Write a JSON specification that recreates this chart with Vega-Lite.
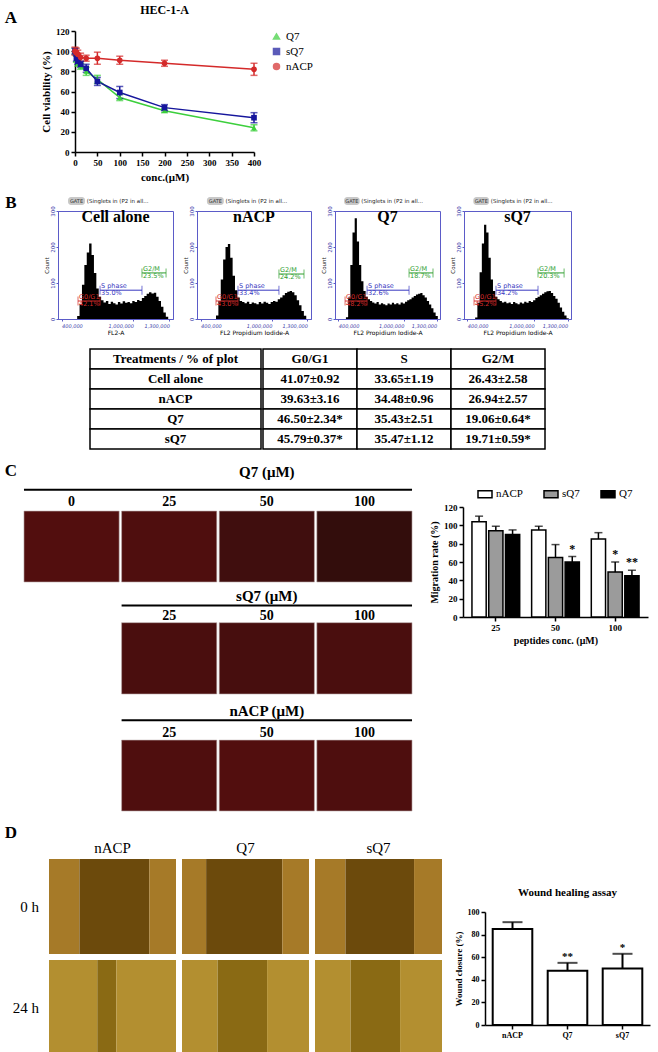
{
  "$schema": "https://vega.github.io/schema/vega-lite/v6.json",
  "background": "white",
  "padding": {"left": 4, "top": 4, "right": 2, "bottom": 0},
  "spacing": 12,
  "resolve": {"scale": {"color": "independent", "shape": "independent"}, "legend": {"color": "independent", "shape": "independent"}},
  "config": {
    "view": {"stroke": null},
    "font": "Liberation Serif",
    "axis": {"grid": false, "labelColor": "black", "titleColor": "black", "domainColor": "black", "tickColor": "black", "labelFont": "Liberation Serif", "titleFont": "Liberation Serif"},
    "legend": {"labelFont": "Liberation Serif", "labelColor": "black", "layout": {"top": {"anchor": "middle"}}},
    "title": {"font": "Liberation Serif", "color": "black"}
  },
  "datasets": {
    "viability": [
      {"peptide": "Q7", "conc": 0, "mean": 100, "sd": 3},
      {"peptide": "Q7", "conc": 3.125, "mean": 92, "sd": 3},
      {"peptide": "Q7", "conc": 6.25, "mean": 88, "sd": 3},
      {"peptide": "Q7", "conc": 12.5, "mean": 85, "sd": 3},
      {"peptide": "Q7", "conc": 25, "mean": 80, "sd": 4},
      {"peptide": "Q7", "conc": 50, "mean": 72, "sd": 4},
      {"peptide": "Q7", "conc": 100, "mean": 54, "sd": 3},
      {"peptide": "Q7", "conc": 200, "mean": 41, "sd": 2},
      {"peptide": "Q7", "conc": 400, "mean": 24, "sd": 3},
      {"peptide": "sQ7", "conc": 0, "mean": 100, "sd": 3},
      {"peptide": "sQ7", "conc": 3.125, "mean": 93, "sd": 3},
      {"peptide": "sQ7", "conc": 6.25, "mean": 90, "sd": 3},
      {"peptide": "sQ7", "conc": 12.5, "mean": 87, "sd": 3},
      {"peptide": "sQ7", "conc": 25, "mean": 83, "sd": 4},
      {"peptide": "sQ7", "conc": 50, "mean": 70, "sd": 4},
      {"peptide": "sQ7", "conc": 100, "mean": 59, "sd": 6},
      {"peptide": "sQ7", "conc": 200, "mean": 44, "sd": 3},
      {"peptide": "sQ7", "conc": 400, "mean": 34, "sd": 5},
      {"peptide": "nACP", "conc": 0, "mean": 100, "sd": 4},
      {"peptide": "nACP", "conc": 3.125, "mean": 99, "sd": 4},
      {"peptide": "nACP", "conc": 6.25, "mean": 97, "sd": 4},
      {"peptide": "nACP", "conc": 12.5, "mean": 94, "sd": 4},
      {"peptide": "nACP", "conc": 25, "mean": 93, "sd": 3},
      {"peptide": "nACP", "conc": 50, "mean": 93, "sd": 6},
      {"peptide": "nACP", "conc": 100, "mean": 91, "sd": 4},
      {"peptide": "nACP", "conc": 200, "mean": 88, "sd": 3},
      {"peptide": "nACP", "conc": 400, "mean": 82, "sd": 6}
    ],
    "flow": [
      {"sample": "Cell alone", "kind": "name", "gate": "GATE", "note": "(Singlets in (P2 in all..."},
      {"sample": "nACP", "kind": "name", "gate": "GATE", "note": "(Singlets in (P2 in all..."},
      {"sample": "Q7", "kind": "name", "gate": "GATE", "note": "(Singlets in (P2 in all..."},
      {"sample": "sQ7", "kind": "name", "gate": "GATE", "note": "(Singlets in (P2 in all..."},
      {"sample": "Cell alone", "kind": "gate", "phase": "G0/G1", "fl2": 537000, "count": 50, "label": "G0/G1\n42.1%"},
      {"sample": "Cell alone", "kind": "gate", "phase": "G0/G1", "fl2": 721000, "count": 50},
      {"sample": "Cell alone", "kind": "gate", "phase": "S phase", "fl2": 721000, "count": 80, "label": "S phase\n35.0%"},
      {"sample": "Cell alone", "kind": "gate", "phase": "S phase", "fl2": 1071000, "count": 80},
      {"sample": "Cell alone", "kind": "gate", "phase": "G2/M", "fl2": 1071000, "count": 128, "label": "G2/M\n23.5%"},
      {"sample": "Cell alone", "kind": "gate", "phase": "G2/M", "fl2": 1272000, "count": 128},
      {"sample": "nACP", "kind": "gate", "phase": "G0/G1", "fl2": 530000, "count": 50, "label": "G0/G1\n43.0%"},
      {"sample": "nACP", "kind": "gate", "phase": "G0/G1", "fl2": 715000, "count": 50},
      {"sample": "nACP", "kind": "gate", "phase": "S phase", "fl2": 715000, "count": 80, "label": "S phase\n33.4%"},
      {"sample": "nACP", "kind": "gate", "phase": "S phase", "fl2": 1060000, "count": 80},
      {"sample": "nACP", "kind": "gate", "phase": "G2/M", "fl2": 1060000, "count": 125, "label": "G2/M\n24.2%"},
      {"sample": "nACP", "kind": "gate", "phase": "G2/M", "fl2": 1271000, "count": 125},
      {"sample": "Q7", "kind": "gate", "phase": "G0/G1", "fl2": 462000, "count": 50, "label": "G0/G1\n48.2%"},
      {"sample": "Q7", "kind": "gate", "phase": "G0/G1", "fl2": 663000, "count": 50},
      {"sample": "Q7", "kind": "gate", "phase": "S phase", "fl2": 663000, "count": 80, "label": "S phase\n32.6%"},
      {"sample": "Q7", "kind": "gate", "phase": "S phase", "fl2": 1047000, "count": 80},
      {"sample": "Q7", "kind": "gate", "phase": "G2/M", "fl2": 1047000, "count": 128, "label": "G2/M\n18.7%"},
      {"sample": "Q7", "kind": "gate", "phase": "G2/M", "fl2": 1266000, "count": 128},
      {"sample": "sQ7", "kind": "gate", "phase": "G0/G1", "fl2": 460000, "count": 50, "label": "G0/G1\n45.2%"},
      {"sample": "sQ7", "kind": "gate", "phase": "G0/G1", "fl2": 657000, "count": 50},
      {"sample": "sQ7", "kind": "gate", "phase": "S phase", "fl2": 657000, "count": 80, "label": "S phase\n34.2%"},
      {"sample": "sQ7", "kind": "gate", "phase": "S phase", "fl2": 1034000, "count": 80},
      {"sample": "sQ7", "kind": "gate", "phase": "G2/M", "fl2": 1034000, "count": 128, "label": "G2/M\n20.3%"},
      {"sample": "sQ7", "kind": "gate", "phase": "G2/M", "fl2": 1268000, "count": 128},
      {"sample": "Cell alone", "kind": "hist", "fl2": 500000, "count": 0},
      {"sample": "Cell alone", "kind": "hist", "fl2": 520000, "count": 0},
      {"sample": "Cell alone", "kind": "hist", "fl2": 540000, "count": 8},
      {"sample": "Cell alone", "kind": "hist", "fl2": 560000, "count": 40},
      {"sample": "Cell alone", "kind": "hist", "fl2": 580000, "count": 95},
      {"sample": "Cell alone", "kind": "hist", "fl2": 600000, "count": 150},
      {"sample": "Cell alone", "kind": "hist", "fl2": 620000, "count": 185},
      {"sample": "Cell alone", "kind": "hist", "fl2": 640000, "count": 210},
      {"sample": "Cell alone", "kind": "hist", "fl2": 660000, "count": 178},
      {"sample": "Cell alone", "kind": "hist", "fl2": 680000, "count": 128},
      {"sample": "Cell alone", "kind": "hist", "fl2": 700000, "count": 85},
      {"sample": "Cell alone", "kind": "hist", "fl2": 720000, "count": 62},
      {"sample": "Cell alone", "kind": "hist", "fl2": 740000, "count": 52},
      {"sample": "Cell alone", "kind": "hist", "fl2": 760000, "count": 46},
      {"sample": "Cell alone", "kind": "hist", "fl2": 780000, "count": 50},
      {"sample": "Cell alone", "kind": "hist", "fl2": 800000, "count": 42},
      {"sample": "Cell alone", "kind": "hist", "fl2": 820000, "count": 48},
      {"sample": "Cell alone", "kind": "hist", "fl2": 840000, "count": 44},
      {"sample": "Cell alone", "kind": "hist", "fl2": 860000, "count": 40},
      {"sample": "Cell alone", "kind": "hist", "fl2": 880000, "count": 47},
      {"sample": "Cell alone", "kind": "hist", "fl2": 900000, "count": 43},
      {"sample": "Cell alone", "kind": "hist", "fl2": 920000, "count": 49},
      {"sample": "Cell alone", "kind": "hist", "fl2": 940000, "count": 45},
      {"sample": "Cell alone", "kind": "hist", "fl2": 960000, "count": 47},
      {"sample": "Cell alone", "kind": "hist", "fl2": 980000, "count": 44},
      {"sample": "Cell alone", "kind": "hist", "fl2": 1000000, "count": 50},
      {"sample": "Cell alone", "kind": "hist", "fl2": 1020000, "count": 47},
      {"sample": "Cell alone", "kind": "hist", "fl2": 1040000, "count": 53},
      {"sample": "Cell alone", "kind": "hist", "fl2": 1060000, "count": 50},
      {"sample": "Cell alone", "kind": "hist", "fl2": 1080000, "count": 58},
      {"sample": "Cell alone", "kind": "hist", "fl2": 1100000, "count": 64},
      {"sample": "Cell alone", "kind": "hist", "fl2": 1120000, "count": 70},
      {"sample": "Cell alone", "kind": "hist", "fl2": 1140000, "count": 74},
      {"sample": "Cell alone", "kind": "hist", "fl2": 1160000, "count": 71},
      {"sample": "Cell alone", "kind": "hist", "fl2": 1180000, "count": 73},
      {"sample": "Cell alone", "kind": "hist", "fl2": 1200000, "count": 62},
      {"sample": "Cell alone", "kind": "hist", "fl2": 1220000, "count": 50},
      {"sample": "Cell alone", "kind": "hist", "fl2": 1240000, "count": 34},
      {"sample": "Cell alone", "kind": "hist", "fl2": 1260000, "count": 18},
      {"sample": "Cell alone", "kind": "hist", "fl2": 1280000, "count": 6},
      {"sample": "Cell alone", "kind": "hist", "fl2": 1300000, "count": 0},
      {"sample": "nACP", "kind": "hist", "fl2": 500000, "count": 0},
      {"sample": "nACP", "kind": "hist", "fl2": 520000, "count": 0},
      {"sample": "nACP", "kind": "hist", "fl2": 540000, "count": 10},
      {"sample": "nACP", "kind": "hist", "fl2": 560000, "count": 50},
      {"sample": "nACP", "kind": "hist", "fl2": 580000, "count": 110},
      {"sample": "nACP", "kind": "hist", "fl2": 600000, "count": 165},
      {"sample": "nACP", "kind": "hist", "fl2": 620000, "count": 200},
      {"sample": "nACP", "kind": "hist", "fl2": 640000, "count": 208},
      {"sample": "nACP", "kind": "hist", "fl2": 660000, "count": 170},
      {"sample": "nACP", "kind": "hist", "fl2": 680000, "count": 120},
      {"sample": "nACP", "kind": "hist", "fl2": 700000, "count": 80},
      {"sample": "nACP", "kind": "hist", "fl2": 720000, "count": 60},
      {"sample": "nACP", "kind": "hist", "fl2": 740000, "count": 50},
      {"sample": "nACP", "kind": "hist", "fl2": 760000, "count": 47},
      {"sample": "nACP", "kind": "hist", "fl2": 780000, "count": 44},
      {"sample": "nACP", "kind": "hist", "fl2": 800000, "count": 48},
      {"sample": "nACP", "kind": "hist", "fl2": 820000, "count": 42},
      {"sample": "nACP", "kind": "hist", "fl2": 840000, "count": 46},
      {"sample": "nACP", "kind": "hist", "fl2": 860000, "count": 44},
      {"sample": "nACP", "kind": "hist", "fl2": 880000, "count": 41},
      {"sample": "nACP", "kind": "hist", "fl2": 900000, "count": 47},
      {"sample": "nACP", "kind": "hist", "fl2": 920000, "count": 43},
      {"sample": "nACP", "kind": "hist", "fl2": 940000, "count": 48},
      {"sample": "nACP", "kind": "hist", "fl2": 960000, "count": 45},
      {"sample": "nACP", "kind": "hist", "fl2": 980000, "count": 42},
      {"sample": "nACP", "kind": "hist", "fl2": 1000000, "count": 47},
      {"sample": "nACP", "kind": "hist", "fl2": 1020000, "count": 50},
      {"sample": "nACP", "kind": "hist", "fl2": 1040000, "count": 48},
      {"sample": "nACP", "kind": "hist", "fl2": 1060000, "count": 55},
      {"sample": "nACP", "kind": "hist", "fl2": 1080000, "count": 60},
      {"sample": "nACP", "kind": "hist", "fl2": 1100000, "count": 66},
      {"sample": "nACP", "kind": "hist", "fl2": 1120000, "count": 72},
      {"sample": "nACP", "kind": "hist", "fl2": 1140000, "count": 76},
      {"sample": "nACP", "kind": "hist", "fl2": 1160000, "count": 78},
      {"sample": "nACP", "kind": "hist", "fl2": 1180000, "count": 74},
      {"sample": "nACP", "kind": "hist", "fl2": 1200000, "count": 66},
      {"sample": "nACP", "kind": "hist", "fl2": 1220000, "count": 52},
      {"sample": "nACP", "kind": "hist", "fl2": 1240000, "count": 38},
      {"sample": "nACP", "kind": "hist", "fl2": 1260000, "count": 22},
      {"sample": "nACP", "kind": "hist", "fl2": 1280000, "count": 9},
      {"sample": "nACP", "kind": "hist", "fl2": 1300000, "count": 0},
      {"sample": "Q7", "kind": "hist", "fl2": 460000, "count": 0},
      {"sample": "Q7", "kind": "hist", "fl2": 480000, "count": 5},
      {"sample": "Q7", "kind": "hist", "fl2": 500000, "count": 60},
      {"sample": "Q7", "kind": "hist", "fl2": 520000, "count": 150},
      {"sample": "Q7", "kind": "hist", "fl2": 540000, "count": 240},
      {"sample": "Q7", "kind": "hist", "fl2": 560000, "count": 280},
      {"sample": "Q7", "kind": "hist", "fl2": 580000, "count": 215},
      {"sample": "Q7", "kind": "hist", "fl2": 600000, "count": 150},
      {"sample": "Q7", "kind": "hist", "fl2": 620000, "count": 105},
      {"sample": "Q7", "kind": "hist", "fl2": 640000, "count": 78},
      {"sample": "Q7", "kind": "hist", "fl2": 660000, "count": 62},
      {"sample": "Q7", "kind": "hist", "fl2": 680000, "count": 55},
      {"sample": "Q7", "kind": "hist", "fl2": 700000, "count": 50},
      {"sample": "Q7", "kind": "hist", "fl2": 720000, "count": 46},
      {"sample": "Q7", "kind": "hist", "fl2": 740000, "count": 43},
      {"sample": "Q7", "kind": "hist", "fl2": 760000, "count": 47},
      {"sample": "Q7", "kind": "hist", "fl2": 780000, "count": 40},
      {"sample": "Q7", "kind": "hist", "fl2": 800000, "count": 44},
      {"sample": "Q7", "kind": "hist", "fl2": 820000, "count": 41},
      {"sample": "Q7", "kind": "hist", "fl2": 840000, "count": 38},
      {"sample": "Q7", "kind": "hist", "fl2": 860000, "count": 43},
      {"sample": "Q7", "kind": "hist", "fl2": 880000, "count": 40},
      {"sample": "Q7", "kind": "hist", "fl2": 900000, "count": 45},
      {"sample": "Q7", "kind": "hist", "fl2": 920000, "count": 41},
      {"sample": "Q7", "kind": "hist", "fl2": 940000, "count": 44},
      {"sample": "Q7", "kind": "hist", "fl2": 960000, "count": 40},
      {"sample": "Q7", "kind": "hist", "fl2": 980000, "count": 46},
      {"sample": "Q7", "kind": "hist", "fl2": 1000000, "count": 43},
      {"sample": "Q7", "kind": "hist", "fl2": 1020000, "count": 48},
      {"sample": "Q7", "kind": "hist", "fl2": 1040000, "count": 52},
      {"sample": "Q7", "kind": "hist", "fl2": 1060000, "count": 55},
      {"sample": "Q7", "kind": "hist", "fl2": 1080000, "count": 60},
      {"sample": "Q7", "kind": "hist", "fl2": 1100000, "count": 64},
      {"sample": "Q7", "kind": "hist", "fl2": 1120000, "count": 68},
      {"sample": "Q7", "kind": "hist", "fl2": 1140000, "count": 70},
      {"sample": "Q7", "kind": "hist", "fl2": 1160000, "count": 72},
      {"sample": "Q7", "kind": "hist", "fl2": 1180000, "count": 66},
      {"sample": "Q7", "kind": "hist", "fl2": 1200000, "count": 60},
      {"sample": "Q7", "kind": "hist", "fl2": 1220000, "count": 50},
      {"sample": "Q7", "kind": "hist", "fl2": 1240000, "count": 40},
      {"sample": "Q7", "kind": "hist", "fl2": 1260000, "count": 30},
      {"sample": "Q7", "kind": "hist", "fl2": 1280000, "count": 18},
      {"sample": "Q7", "kind": "hist", "fl2": 1300000, "count": 8},
      {"sample": "Q7", "kind": "hist", "fl2": 1320000, "count": 0},
      {"sample": "sQ7", "kind": "hist", "fl2": 460000, "count": 0},
      {"sample": "sQ7", "kind": "hist", "fl2": 480000, "count": 4},
      {"sample": "sQ7", "kind": "hist", "fl2": 500000, "count": 45},
      {"sample": "sQ7", "kind": "hist", "fl2": 520000, "count": 130},
      {"sample": "sQ7", "kind": "hist", "fl2": 540000, "count": 210},
      {"sample": "sQ7", "kind": "hist", "fl2": 560000, "count": 262},
      {"sample": "sQ7", "kind": "hist", "fl2": 580000, "count": 240},
      {"sample": "sQ7", "kind": "hist", "fl2": 600000, "count": 170},
      {"sample": "sQ7", "kind": "hist", "fl2": 620000, "count": 110},
      {"sample": "sQ7", "kind": "hist", "fl2": 640000, "count": 78},
      {"sample": "sQ7", "kind": "hist", "fl2": 660000, "count": 62},
      {"sample": "sQ7", "kind": "hist", "fl2": 680000, "count": 55},
      {"sample": "sQ7", "kind": "hist", "fl2": 700000, "count": 50},
      {"sample": "sQ7", "kind": "hist", "fl2": 720000, "count": 46},
      {"sample": "sQ7", "kind": "hist", "fl2": 740000, "count": 48},
      {"sample": "sQ7", "kind": "hist", "fl2": 760000, "count": 44},
      {"sample": "sQ7", "kind": "hist", "fl2": 780000, "count": 46},
      {"sample": "sQ7", "kind": "hist", "fl2": 800000, "count": 42},
      {"sample": "sQ7", "kind": "hist", "fl2": 820000, "count": 47},
      {"sample": "sQ7", "kind": "hist", "fl2": 840000, "count": 44},
      {"sample": "sQ7", "kind": "hist", "fl2": 860000, "count": 41},
      {"sample": "sQ7", "kind": "hist", "fl2": 880000, "count": 46},
      {"sample": "sQ7", "kind": "hist", "fl2": 900000, "count": 43},
      {"sample": "sQ7", "kind": "hist", "fl2": 920000, "count": 48},
      {"sample": "sQ7", "kind": "hist", "fl2": 940000, "count": 45},
      {"sample": "sQ7", "kind": "hist", "fl2": 960000, "count": 50},
      {"sample": "sQ7", "kind": "hist", "fl2": 980000, "count": 47},
      {"sample": "sQ7", "kind": "hist", "fl2": 1000000, "count": 52},
      {"sample": "sQ7", "kind": "hist", "fl2": 1020000, "count": 58},
      {"sample": "sQ7", "kind": "hist", "fl2": 1040000, "count": 62},
      {"sample": "sQ7", "kind": "hist", "fl2": 1060000, "count": 66},
      {"sample": "sQ7", "kind": "hist", "fl2": 1080000, "count": 70},
      {"sample": "sQ7", "kind": "hist", "fl2": 1100000, "count": 74},
      {"sample": "sQ7", "kind": "hist", "fl2": 1120000, "count": 77},
      {"sample": "sQ7", "kind": "hist", "fl2": 1140000, "count": 78},
      {"sample": "sQ7", "kind": "hist", "fl2": 1160000, "count": 72},
      {"sample": "sQ7", "kind": "hist", "fl2": 1180000, "count": 64},
      {"sample": "sQ7", "kind": "hist", "fl2": 1200000, "count": 56},
      {"sample": "sQ7", "kind": "hist", "fl2": 1220000, "count": 45},
      {"sample": "sQ7", "kind": "hist", "fl2": 1240000, "count": 32},
      {"sample": "sQ7", "kind": "hist", "fl2": 1260000, "count": 20},
      {"sample": "sQ7", "kind": "hist", "fl2": 1280000, "count": 10},
      {"sample": "sQ7", "kind": "hist", "fl2": 1300000, "count": 2},
      {"sample": "sQ7", "kind": "hist", "fl2": 1320000, "count": 0}
    ],
    "table": [
      {"treatment": "Treatments / % of plot", "phase": "name", "text": "Treatments / % of plot"},
      {"treatment": "Cell alone", "phase": "name", "text": "Cell alone"},
      {"treatment": "nACP", "phase": "name", "text": "nACP"},
      {"treatment": "Q7", "phase": "name", "text": "Q7"},
      {"treatment": "sQ7", "phase": "name", "text": "sQ7"},
      {"treatment": "Treatments / % of plot", "phase": "G0/G1", "text": "G0/G1"},
      {"treatment": "Treatments / % of plot", "phase": "S", "text": "S"},
      {"treatment": "Treatments / % of plot", "phase": "G2/M", "text": "G2/M"},
      {"treatment": "Cell alone", "phase": "G0/G1", "text": "41.07±0.92"},
      {"treatment": "Cell alone", "phase": "S", "text": "33.65±1.19"},
      {"treatment": "Cell alone", "phase": "G2/M", "text": "26.43±2.58"},
      {"treatment": "nACP", "phase": "G0/G1", "text": "39.63±3.16"},
      {"treatment": "nACP", "phase": "S", "text": "34.48±0.96"},
      {"treatment": "nACP", "phase": "G2/M", "text": "26.94±2.57"},
      {"treatment": "Q7", "phase": "G0/G1", "text": "46.50±2.34*"},
      {"treatment": "Q7", "phase": "S", "text": "35.43±2.51"},
      {"treatment": "Q7", "phase": "G2/M", "text": "19.06±0.64*"},
      {"treatment": "sQ7", "phase": "G0/G1", "text": "45.79±0.37*"},
      {"treatment": "sQ7", "phase": "S", "text": "35.47±1.12"},
      {"treatment": "sQ7", "phase": "G2/M", "text": "19.71±0.59*"}
    ],
    "migimg": [
      {"group": "Q7", "conc": "0", "density": 0.9},
      {"group": "Q7", "conc": "25", "density": 0.86},
      {"group": "Q7", "conc": "50", "density": 0.66},
      {"group": "Q7", "conc": "100", "density": 0.5},
      {"group": "sQ7", "conc": "25", "density": 0.8},
      {"group": "sQ7", "conc": "50", "density": 0.76},
      {"group": "sQ7", "conc": "100", "density": 0.8},
      {"group": "nACP", "conc": "25", "density": 0.86},
      {"group": "nACP", "conc": "50", "density": 0.9},
      {"group": "nACP", "conc": "100", "density": 0.84}
    ],
    "miggroup": [
      {"group": "Q7", "title": "Q7 (μM)", "first": "0", "last": "100"},
      {"group": "sQ7", "title": "sQ7 (μM)", "first": "25", "last": "100"},
      {"group": "nACP", "title": "nACP (μM)", "first": "25", "last": "100"}
    ],
    "migration": [
      {"conc": "25", "peptide": "nACP", "value": 104, "sd": 6},
      {"conc": "25", "peptide": "sQ7", "value": 94, "sd": 5},
      {"conc": "25", "peptide": "Q7", "value": 90, "sd": 5},
      {"conc": "50", "peptide": "nACP", "value": 95, "sd": 4},
      {"conc": "50", "peptide": "sQ7", "value": 65, "sd": 14},
      {"conc": "50", "peptide": "Q7", "value": 60, "sd": 6},
      {"conc": "100", "peptide": "nACP", "value": 85, "sd": 7},
      {"conc": "100", "peptide": "sQ7", "value": 49, "sd": 11},
      {"conc": "100", "peptide": "Q7", "value": 45, "sd": 6}
    ],
    "migstars": [
      {"conc": "50", "peptide": "Q7", "value": 66, "sig": "*"},
      {"conc": "100", "peptide": "sQ7", "value": 60, "sig": "*"},
      {"conc": "100", "peptide": "Q7", "value": 51, "sig": "**"}
    ],
    "wound": [
      {"treatment": "nACP", "time": "0 h", "part": "cells", "from": 0, "to": 0.24},
      {"treatment": "nACP", "time": "0 h", "part": "gap", "from": 0.24, "to": 0.79},
      {"treatment": "nACP", "time": "0 h", "part": "cells", "from": 0.79, "to": 1},
      {"treatment": "Q7", "time": "0 h", "part": "cells", "from": 0, "to": 0.19},
      {"treatment": "Q7", "time": "0 h", "part": "gap", "from": 0.19, "to": 0.79},
      {"treatment": "Q7", "time": "0 h", "part": "cells", "from": 0.79, "to": 1},
      {"treatment": "sQ7", "time": "0 h", "part": "cells", "from": 0, "to": 0.24},
      {"treatment": "sQ7", "time": "0 h", "part": "gap", "from": 0.24, "to": 0.78},
      {"treatment": "sQ7", "time": "0 h", "part": "cells", "from": 0.78, "to": 1},
      {"treatment": "nACP", "time": "24 h", "part": "cells", "from": 0, "to": 0.38},
      {"treatment": "nACP", "time": "24 h", "part": "gap", "from": 0.38, "to": 0.53},
      {"treatment": "nACP", "time": "24 h", "part": "cells", "from": 0.53, "to": 1},
      {"treatment": "Q7", "time": "24 h", "part": "cells", "from": 0, "to": 0.28},
      {"treatment": "Q7", "time": "24 h", "part": "gap", "from": 0.28, "to": 0.67},
      {"treatment": "Q7", "time": "24 h", "part": "cells", "from": 0.67, "to": 1},
      {"treatment": "sQ7", "time": "24 h", "part": "cells", "from": 0, "to": 0.28},
      {"treatment": "sQ7", "time": "24 h", "part": "gap", "from": 0.28, "to": 0.67},
      {"treatment": "sQ7", "time": "24 h", "part": "cells", "from": 0.67, "to": 1}
    ],
    "closure": [
      {"peptide": "nACP", "value": 85, "sd": 6},
      {"peptide": "Q7", "value": 48, "sd": 7},
      {"peptide": "sQ7", "value": 50, "sd": 13}
    ],
    "closurestars": [
      {"peptide": "Q7", "value": 55, "sig": "**"},
      {"peptide": "sQ7", "value": 63, "sig": "*"}
    ]
  },
  "vconcat": [
    {
      "hconcat": [
        {"width": 12, "height": 12, "data": {"values": [{"letter": "A"}]},
         "mark": {"type": "text", "font": "Liberation Serif", "fontSize": 17, "fontWeight": "bold", "color": "black", "dy": -19},
         "encoding": {"text": {"field": "letter"}}},
        {
          "width": 179, "height": 121,
          "title": {"text": "HEC-1-A", "fontSize": 12, "fontWeight": "bold", "offset": 10},
          "data": {"name": "viability"},
          "encoding": {
            "x": {"field": "conc", "type": "quantitative", "scale": {"domain": [0, 400], "nice": false},
                  "axis": {"values": [0, 50, 100, 150, 200, 250, 300, 350, 400], "title": "conc.(μM)", "labelFontWeight": "bold", "labelFontSize": 9, "titleFontSize": 11, "titleFontWeight": "bold", "tickSize": 4, "domainWidth": 1.5, "tickWidth": 1.5, "labelFlush": false, "titlePadding": 4}},
            "y": {"field": "mean", "type": "quantitative", "scale": {"domain": [0, 120], "nice": false},
                  "axis": {"values": [0, 20, 40, 60, 80, 100, 120], "title": "Cell viability (%)", "labelFontWeight": "bold", "labelFontSize": 9, "titleFontSize": 11, "titleFontWeight": "bold", "tickSize": 4, "domainWidth": 1.5, "tickWidth": 1.5, "titlePadding": 4}},
            "color": {"field": "peptide", "type": "nominal", "scale": {"domain": ["Q7", "sQ7", "nACP"], "range": ["#3ccf3c", "#16169c", "#d42a2a"]},
                      "legend": {"title": null, "orient": "right", "offset": 14, "labelFontSize": 11, "symbolSize": 36, "rowPadding": 2, "padding": 0}}
          },
          "layer": [
            {"mark": {"type": "line", "strokeWidth": 1.5}},
            {"mark": {"type": "errorbar", "ticks": {"size": 7, "thickness": 1.5}, "rule": {"strokeWidth": 1.5}}, "encoding": {"yError": {"field": "sd"}}},
            {"mark": {"type": "point", "filled": true, "size": 32, "opacity": 1},
             "encoding": {"shape": {"field": "peptide", "type": "nominal", "scale": {"domain": ["Q7", "sQ7", "nACP"], "range": ["triangle-up", "square", "circle"]}}}}
          ]
        }
      ],
      "spacing": 22,
      "resolve": {"scale": {"color": "independent", "shape": "independent"}, "legend": {"color": "independent", "shape": "independent"}}
    },
    {
      "hconcat": [
        {"width": 30, "height": 12, "data": {"values": [{"letter": "B"}]},
         "mark": {"type": "text", "font": "Liberation Serif", "fontSize": 17, "fontWeight": "bold", "color": "black", "dx": -9},
         "encoding": {"text": {"field": "letter"}}},
        {
          "vconcat": [
            {"width": 115, "height": 8, "data": {"name": "flow"}, "transform": [{"filter": "datum.sample == 'Cell alone' && datum.kind == 'name'"}],
             "layer": [
               {"mark": {"type": "rect", "fill": "#c8c8c8", "cornerRadius": 3},
                "encoding": {"x": {"datum": 0.087, "type": "quantitative", "scale": {"domain": [0, 1]}, "axis": null}, "x2": {"datum": 0.235}, "y": {"datum": 0, "type": "quantitative", "scale": {"domain": [0, 1]}, "axis": null}, "y2": {"datum": 1}}},
               {"mark": {"type": "text", "font": "DejaVu Sans", "fontSize": 5, "color": "#333333"},
                "encoding": {"x": {"datum": 0.161, "type": "quantitative", "axis": null}, "text": {"field": "gate"}}},
               {"mark": {"type": "text", "font": "DejaVu Sans", "fontSize": 5.5, "align": "left", "color": "#222222"},
                "encoding": {"x": {"datum": 0.25, "type": "quantitative", "axis": null}, "text": {"field": "note"}}}
             ]},
            {"width": 115, "height": 108,
             "view": {"stroke": "#5b5bc8", "strokeWidth": 1},
             "title": {"text": "Cell alone", "fontSize": 16, "fontWeight": "bold", "offset": -19},
             "data": {"name": "flow"}, "transform": [{"filter": "datum.sample == 'Cell alone'"}],
             "encoding": {
               "x": {"field": "fl2", "type": "quantitative", "scale": {"domain": [370000, 1330000], "nice": false, "zero": false},
                     "axis": {"values": [400000, 1000000, 1300000], "labelExpr": "format(datum.value, ',')", "labelOverlap": false, "labelAlign": {"condition": {"test": "datum.value < 500000", "value": "left"}, "value": "right"}, "title": "FL2-A", "titleFont": "DejaVu Sans", "titleFontSize": 6, "titleFontWeight": "normal", "titlePadding": 1, "labelFont": "DejaVu Sans", "labelFontSize": 5, "labelFontStyle": "italic", "labelColor": "#3a3aa8", "domainColor": "#5b5bc8", "tickColor": "#5b5bc8", "tickSize": 2, "labelPadding": 2}},
               "y": {"field": "count", "type": "quantitative", "scale": {"domain": [0, 300], "nice": false},
                     "axis": {"values": [0, 100, 200, 300], "title": "Count", "labelAngle": -90, "labelFont": "DejaVu Sans", "labelFontSize": 5.5, "labelColor": "#3a3aa8", "titleFont": "DejaVu Sans", "titleFontSize": 5.5, "titleFontWeight": "normal", "titleColor": "#222222", "domainColor": "#5b5bc8", "tickColor": "#5b5bc8", "tickSize": 2, "titlePadding": 1, "labelPadding": 1}}},
             "layer": [
               {"transform": [{"filter": "datum.kind == 'hist'"}], "mark": {"type": "area", "interpolate": "step", "color": "black"}},
               {"transform": [{"filter": "datum.kind == 'gate'"}], "mark": {"type": "line", "strokeWidth": 1},
                "encoding": {"detail": {"field": "phase"}, "color": {"field": "phase", "type": "nominal", "scale": {"domain": ["G0/G1", "S phase", "G2/M"], "range": ["#d42a2a", "#3838c0", "#2e9e2e"]}, "legend": null}}},
               {"transform": [{"filter": "datum.kind == 'gate'"}], "mark": {"type": "tick", "orient": "vertical", "size": 9, "thickness": 1},
                "encoding": {"color": {"field": "phase", "type": "nominal", "legend": null}}},
               {"transform": [{"filter": "datum.kind == 'gate' && datum.label"}],
                "mark": {"type": "text", "align": "left", "baseline": "bottom", "dx": 1, "dy": -1, "fontSize": 6.5, "font": "DejaVu Sans", "lineBreak": "\n", "lineHeight": 7},
                "encoding": {"text": {"field": "label"}, "color": {"field": "phase", "type": "nominal", "legend": null}}}
             ]}
          ],
          "spacing": 0
        },
        {
          "vconcat": [
            {"width": 114, "height": 8, "data": {"name": "flow"}, "transform": [{"filter": "datum.sample == 'nACP' && datum.kind == 'name'"}],
             "layer": [
               {"mark": {"type": "rect", "fill": "#c8c8c8", "cornerRadius": 3},
                "encoding": {"x": {"datum": 0.087, "type": "quantitative", "scale": {"domain": [0, 1]}, "axis": null}, "x2": {"datum": 0.235}, "y": {"datum": 0, "type": "quantitative", "scale": {"domain": [0, 1]}, "axis": null}, "y2": {"datum": 1}}},
               {"mark": {"type": "text", "font": "DejaVu Sans", "fontSize": 5, "color": "#333333"},
                "encoding": {"x": {"datum": 0.161, "type": "quantitative", "axis": null}, "text": {"field": "gate"}}},
               {"mark": {"type": "text", "font": "DejaVu Sans", "fontSize": 5.5, "align": "left", "color": "#222222"},
                "encoding": {"x": {"datum": 0.25, "type": "quantitative", "axis": null}, "text": {"field": "note"}}}
             ]},
            {"width": 114, "height": 108,
             "view": {"stroke": "#5b5bc8", "strokeWidth": 1},
             "title": {"text": "nACP", "fontSize": 16, "fontWeight": "bold", "offset": -19},
             "data": {"name": "flow"}, "transform": [{"filter": "datum.sample == 'nACP'"}],
             "encoding": {
               "x": {"field": "fl2", "type": "quantitative", "scale": {"domain": [370000, 1330000], "nice": false, "zero": false},
                     "axis": {"values": [400000, 1000000, 1300000], "labelExpr": "format(datum.value, ',')", "labelOverlap": false, "labelAlign": {"condition": {"test": "datum.value < 500000", "value": "left"}, "value": "right"}, "title": "FL2 Propidium Iodide-A", "titleFont": "DejaVu Sans", "titleFontSize": 6, "titleFontWeight": "normal", "titlePadding": 1, "labelFont": "DejaVu Sans", "labelFontSize": 5, "labelFontStyle": "italic", "labelColor": "#3a3aa8", "domainColor": "#5b5bc8", "tickColor": "#5b5bc8", "tickSize": 2, "labelPadding": 2}},
               "y": {"field": "count", "type": "quantitative", "scale": {"domain": [0, 300], "nice": false},
                     "axis": {"values": [0, 100, 200, 300], "title": "Count", "labelAngle": -90, "labelFont": "DejaVu Sans", "labelFontSize": 5.5, "labelColor": "#3a3aa8", "titleFont": "DejaVu Sans", "titleFontSize": 5.5, "titleFontWeight": "normal", "titleColor": "#222222", "domainColor": "#5b5bc8", "tickColor": "#5b5bc8", "tickSize": 2, "titlePadding": 1, "labelPadding": 1}}},
             "layer": [
               {"transform": [{"filter": "datum.kind == 'hist'"}], "mark": {"type": "area", "interpolate": "step", "color": "black"}},
               {"transform": [{"filter": "datum.kind == 'gate'"}], "mark": {"type": "line", "strokeWidth": 1},
                "encoding": {"detail": {"field": "phase"}, "color": {"field": "phase", "type": "nominal", "scale": {"domain": ["G0/G1", "S phase", "G2/M"], "range": ["#d42a2a", "#3838c0", "#2e9e2e"]}, "legend": null}}},
               {"transform": [{"filter": "datum.kind == 'gate'"}], "mark": {"type": "tick", "orient": "vertical", "size": 9, "thickness": 1},
                "encoding": {"color": {"field": "phase", "type": "nominal", "legend": null}}},
               {"transform": [{"filter": "datum.kind == 'gate' && datum.label"}],
                "mark": {"type": "text", "align": "left", "baseline": "bottom", "dx": 1, "dy": -1, "fontSize": 6.5, "font": "DejaVu Sans", "lineBreak": "\n", "lineHeight": 7},
                "encoding": {"text": {"field": "label"}, "color": {"field": "phase", "type": "nominal", "legend": null}}}
             ]}
          ],
          "spacing": 0
        },
        {
          "vconcat": [
            {"width": 105, "height": 8, "data": {"name": "flow"}, "transform": [{"filter": "datum.sample == 'Q7' && datum.kind == 'name'"}],
             "layer": [
               {"mark": {"type": "rect", "fill": "#c8c8c8", "cornerRadius": 3},
                "encoding": {"x": {"datum": 0.087, "type": "quantitative", "scale": {"domain": [0, 1]}, "axis": null}, "x2": {"datum": 0.235}, "y": {"datum": 0, "type": "quantitative", "scale": {"domain": [0, 1]}, "axis": null}, "y2": {"datum": 1}}},
               {"mark": {"type": "text", "font": "DejaVu Sans", "fontSize": 5, "color": "#333333"},
                "encoding": {"x": {"datum": 0.161, "type": "quantitative", "axis": null}, "text": {"field": "gate"}}},
               {"mark": {"type": "text", "font": "DejaVu Sans", "fontSize": 5.5, "align": "left", "color": "#222222"},
                "encoding": {"x": {"datum": 0.25, "type": "quantitative", "axis": null}, "text": {"field": "note"}}}
             ]},
            {"width": 105, "height": 108,
             "view": {"stroke": "#5b5bc8", "strokeWidth": 1},
             "title": {"text": "Q7", "fontSize": 16, "fontWeight": "bold", "offset": -19},
             "data": {"name": "flow"}, "transform": [{"filter": "datum.sample == 'Q7'"}],
             "encoding": {
               "x": {"field": "fl2", "type": "quantitative", "scale": {"domain": [370000, 1330000], "nice": false, "zero": false},
                     "axis": {"values": [400000, 1000000, 1300000], "labelExpr": "format(datum.value, ',')", "labelOverlap": false, "labelAlign": {"condition": {"test": "datum.value < 500000", "value": "left"}, "value": "right"}, "title": "FL2 Propidium Iodide-A", "titleFont": "DejaVu Sans", "titleFontSize": 6, "titleFontWeight": "normal", "titlePadding": 1, "labelFont": "DejaVu Sans", "labelFontSize": 5, "labelFontStyle": "italic", "labelColor": "#3a3aa8", "domainColor": "#5b5bc8", "tickColor": "#5b5bc8", "tickSize": 2, "labelPadding": 2}},
               "y": {"field": "count", "type": "quantitative", "scale": {"domain": [0, 300], "nice": false},
                     "axis": {"values": [0, 100, 200, 300], "title": "Count", "labelAngle": -90, "labelFont": "DejaVu Sans", "labelFontSize": 5.5, "labelColor": "#3a3aa8", "titleFont": "DejaVu Sans", "titleFontSize": 5.5, "titleFontWeight": "normal", "titleColor": "#222222", "domainColor": "#5b5bc8", "tickColor": "#5b5bc8", "tickSize": 2, "titlePadding": 1, "labelPadding": 1}}},
             "layer": [
               {"transform": [{"filter": "datum.kind == 'hist'"}], "mark": {"type": "area", "interpolate": "step", "color": "black"}},
               {"transform": [{"filter": "datum.kind == 'gate'"}], "mark": {"type": "line", "strokeWidth": 1},
                "encoding": {"detail": {"field": "phase"}, "color": {"field": "phase", "type": "nominal", "scale": {"domain": ["G0/G1", "S phase", "G2/M"], "range": ["#d42a2a", "#3838c0", "#2e9e2e"]}, "legend": null}}},
               {"transform": [{"filter": "datum.kind == 'gate'"}], "mark": {"type": "tick", "orient": "vertical", "size": 9, "thickness": 1},
                "encoding": {"color": {"field": "phase", "type": "nominal", "legend": null}}},
               {"transform": [{"filter": "datum.kind == 'gate' && datum.label"}],
                "mark": {"type": "text", "align": "left", "baseline": "bottom", "dx": 1, "dy": -1, "fontSize": 6.5, "font": "DejaVu Sans", "lineBreak": "\n", "lineHeight": 7},
                "encoding": {"text": {"field": "label"}, "color": {"field": "phase", "type": "nominal", "legend": null}}}
             ]}
          ],
          "spacing": 0
        },
        {
          "vconcat": [
            {"width": 107, "height": 8, "data": {"name": "flow"}, "transform": [{"filter": "datum.sample == 'sQ7' && datum.kind == 'name'"}],
             "layer": [
               {"mark": {"type": "rect", "fill": "#c8c8c8", "cornerRadius": 3},
                "encoding": {"x": {"datum": 0.087, "type": "quantitative", "scale": {"domain": [0, 1]}, "axis": null}, "x2": {"datum": 0.235}, "y": {"datum": 0, "type": "quantitative", "scale": {"domain": [0, 1]}, "axis": null}, "y2": {"datum": 1}}},
               {"mark": {"type": "text", "font": "DejaVu Sans", "fontSize": 5, "color": "#333333"},
                "encoding": {"x": {"datum": 0.161, "type": "quantitative", "axis": null}, "text": {"field": "gate"}}},
               {"mark": {"type": "text", "font": "DejaVu Sans", "fontSize": 5.5, "align": "left", "color": "#222222"},
                "encoding": {"x": {"datum": 0.25, "type": "quantitative", "axis": null}, "text": {"field": "note"}}}
             ]},
            {"width": 107, "height": 108,
             "view": {"stroke": "#5b5bc8", "strokeWidth": 1},
             "title": {"text": "sQ7", "fontSize": 16, "fontWeight": "bold", "offset": -19},
             "data": {"name": "flow"}, "transform": [{"filter": "datum.sample == 'sQ7'"}],
             "encoding": {
               "x": {"field": "fl2", "type": "quantitative", "scale": {"domain": [370000, 1330000], "nice": false, "zero": false},
                     "axis": {"values": [400000, 1000000, 1300000], "labelExpr": "format(datum.value, ',')", "labelOverlap": false, "labelAlign": {"condition": {"test": "datum.value < 500000", "value": "left"}, "value": "right"}, "title": "FL2 Propidium Iodide-A", "titleFont": "DejaVu Sans", "titleFontSize": 6, "titleFontWeight": "normal", "titlePadding": 1, "labelFont": "DejaVu Sans", "labelFontSize": 5, "labelFontStyle": "italic", "labelColor": "#3a3aa8", "domainColor": "#5b5bc8", "tickColor": "#5b5bc8", "tickSize": 2, "labelPadding": 2}},
               "y": {"field": "count", "type": "quantitative", "scale": {"domain": [0, 300], "nice": false},
                     "axis": {"values": [0, 100, 200, 300], "title": "Count", "labelAngle": -90, "labelFont": "DejaVu Sans", "labelFontSize": 5.5, "labelColor": "#3a3aa8", "titleFont": "DejaVu Sans", "titleFontSize": 5.5, "titleFontWeight": "normal", "titleColor": "#222222", "domainColor": "#5b5bc8", "tickColor": "#5b5bc8", "tickSize": 2, "titlePadding": 1, "labelPadding": 1}}},
             "layer": [
               {"transform": [{"filter": "datum.kind == 'hist'"}], "mark": {"type": "area", "interpolate": "step", "color": "black"}},
               {"transform": [{"filter": "datum.kind == 'gate'"}], "mark": {"type": "line", "strokeWidth": 1},
                "encoding": {"detail": {"field": "phase"}, "color": {"field": "phase", "type": "nominal", "scale": {"domain": ["G0/G1", "S phase", "G2/M"], "range": ["#d42a2a", "#3838c0", "#2e9e2e"]}, "legend": null}}},
               {"transform": [{"filter": "datum.kind == 'gate'"}], "mark": {"type": "tick", "orient": "vertical", "size": 9, "thickness": 1},
                "encoding": {"color": {"field": "phase", "type": "nominal", "legend": null}}},
               {"transform": [{"filter": "datum.kind == 'gate' && datum.label"}],
                "mark": {"type": "text", "align": "left", "baseline": "bottom", "dx": 1, "dy": -1, "fontSize": 6.5, "font": "DejaVu Sans", "lineBreak": "\n", "lineHeight": 7},
                "encoding": {"text": {"field": "label"}, "color": {"field": "phase", "type": "nominal", "legend": null}}}
             ]}
          ],
          "spacing": 0
        }
      ],
      "spacing": 8,
      "resolve": {"scale": {"color": "independent"}}
    },
    {
      "hconcat": [
        {"width": 84, "height": 1, "data": {"values": []}, "mark": "point"},
        {
          "width": 171, "height": 100,
          "data": {"name": "table"},
          "transform": [{"filter": "datum.phase == 'name'"}],
          "encoding": {"y": {"field": "treatment", "type": "nominal", "sort": ["Treatments / % of plot", "Cell alone", "nACP", "Q7", "sQ7"], "scale": {"paddingInner": 0, "paddingOuter": 0}, "axis": null}},
          "layer": [
            {"mark": {"type": "rect", "fill": "white", "stroke": "black", "strokeWidth": 1.5}},
            {"mark": {"type": "text", "font": "Liberation Serif", "fontSize": 13, "fontWeight": "bold", "color": "black"}, "encoding": {"text": {"field": "text"}}}
          ]
        },
        {
          "width": 282, "height": 100,
          "data": {"name": "table"},
          "transform": [{"filter": "datum.phase != 'name'"}],
          "encoding": {
            "x": {"field": "phase", "type": "nominal", "sort": ["G0/G1", "S", "G2/M"], "scale": {"paddingInner": 0, "paddingOuter": 0}, "axis": null},
            "y": {"field": "treatment", "type": "nominal", "sort": ["Treatments / % of plot", "Cell alone", "nACP", "Q7", "sQ7"], "scale": {"paddingInner": 0, "paddingOuter": 0}, "axis": null}},
          "layer": [
            {"mark": {"type": "rect", "fill": "white", "stroke": "black", "strokeWidth": 1.5}},
            {"mark": {"type": "text", "font": "Liberation Serif", "fontSize": 13, "fontWeight": "bold", "color": "black"}, "encoding": {"text": {"field": "text"}}}
          ]
        }
      ],
      "spacing": 0
    },
    {
      "hconcat": [
        {"width": 12, "height": 12, "data": {"values": [{"letter": "C"}]},
         "mark": {"type": "text", "font": "Liberation Serif", "fontSize": 17, "fontWeight": "bold", "color": "black"},
         "encoding": {"text": {"field": "letter"}}},
        {
          "vconcat": [
            {
              "width": 390, "height": 117,
              "layer": [
                {"data": {"name": "migimg"}, "transform": [{"filter": "datum.group == 'Q7'"}],
                 "mark": {"type": "rect", "stroke": "#b8a8a8", "strokeWidth": 0.6},
                 "encoding": {
                   "x": {"field": "conc", "type": "ordinal", "scale": {"domain": ["0", "25", "50", "100"], "paddingInner": 0.025, "paddingOuter": 0.01}, "axis": null},
                   "y": {"datum": 0, "type": "quantitative", "scale": {"domain": [0, 1.65], "nice": false}, "axis": null}, "y2": {"datum": 1},
                   "color": {"field": "density", "type": "quantitative", "scale": {"domain": [0, 1], "range": ["#0a0000", "#5a0e0e"]}, "legend": null}}},
                {"data": {"name": "migimg"}, "transform": [{"filter": "datum.group == 'Q7'"}],
                 "mark": {"type": "text", "font": "Liberation Serif", "fontSize": 14, "fontWeight": "bold", "baseline": "middle", "color": "black"},
                 "encoding": {"x": {"field": "conc", "type": "ordinal", "axis": null}, "y": {"datum": 1.13, "type": "quantitative", "axis": null}, "text": {"field": "conc"}}},
                {"data": {"name": "miggroup"}, "transform": [{"filter": "datum.group == 'Q7'"}],
                 "mark": {"type": "rule", "strokeWidth": 2, "color": "black"},
                 "encoding": {"x": {"field": "first", "type": "ordinal", "bandPosition": 0, "axis": null}, "x2": {"field": "last", "bandPosition": 1}, "y": {"datum": 1.3, "type": "quantitative", "axis": null}}},
                {"data": {"name": "miggroup"}, "transform": [{"filter": "datum.group == 'Q7'"}],
                 "mark": {"type": "text", "font": "Liberation Serif", "fontSize": 15, "fontWeight": "bold", "baseline": "middle", "color": "black"},
                 "encoding": {"x": {"datum": "50", "type": "ordinal", "axis": null}, "y": {"datum": 1.55, "type": "quantitative", "axis": null}, "text": {"field": "title"}}}
              ]
            },
            {
              "width": 390, "height": 107,
              "layer": [
                {"data": {"name": "migimg"}, "transform": [{"filter": "datum.group == 'sQ7'"}],
                 "mark": {"type": "rect", "stroke": "#b8a8a8", "strokeWidth": 0.6},
                 "encoding": {
                   "x": {"field": "conc", "type": "ordinal", "scale": {"domain": ["0", "25", "50", "100"], "paddingInner": 0.025, "paddingOuter": 0.01}, "axis": null},
                   "y": {"datum": 0, "type": "quantitative", "scale": {"domain": [0, 1.5], "nice": false}, "axis": null}, "y2": {"datum": 1},
                   "color": {"field": "density", "type": "quantitative", "scale": {"domain": [0, 1], "range": ["#0a0000", "#5a0e0e"]}, "legend": null}}},
                {"data": {"name": "migimg"}, "transform": [{"filter": "datum.group == 'sQ7'"}],
                 "mark": {"type": "text", "font": "Liberation Serif", "fontSize": 14, "fontWeight": "bold", "baseline": "middle", "color": "black"},
                 "encoding": {"x": {"field": "conc", "type": "ordinal", "axis": null}, "y": {"datum": 1.1, "type": "quantitative", "axis": null}, "text": {"field": "conc"}}},
                {"data": {"name": "miggroup"}, "transform": [{"filter": "datum.group == 'sQ7'"}],
                 "mark": {"type": "rule", "strokeWidth": 2, "color": "black"},
                 "encoding": {"x": {"field": "first", "type": "ordinal", "bandPosition": 0, "axis": null}, "x2": {"field": "last", "bandPosition": 1}, "y": {"datum": 1.24, "type": "quantitative", "axis": null}}},
                {"data": {"name": "miggroup"}, "transform": [{"filter": "datum.group == 'sQ7'"}],
                 "mark": {"type": "text", "font": "Liberation Serif", "fontSize": 15, "fontWeight": "bold", "baseline": "middle", "color": "black"},
                 "encoding": {"x": {"datum": "50", "type": "ordinal", "axis": null}, "y": {"datum": 1.38, "type": "quantitative", "axis": null}, "text": {"field": "title"}}}
              ]
            },
            {
              "width": 390, "height": 112,
              "layer": [
                {"data": {"name": "migimg"}, "transform": [{"filter": "datum.group == 'nACP'"}],
                 "mark": {"type": "rect", "stroke": "#b8a8a8", "strokeWidth": 0.6},
                 "encoding": {
                   "x": {"field": "conc", "type": "ordinal", "scale": {"domain": ["0", "25", "50", "100"], "paddingInner": 0.025, "paddingOuter": 0.01}, "axis": null},
                   "y": {"datum": 0, "type": "quantitative", "scale": {"domain": [0, 1.58], "nice": false}, "axis": null}, "y2": {"datum": 1},
                   "color": {"field": "density", "type": "quantitative", "scale": {"domain": [0, 1], "range": ["#0a0000", "#5a0e0e"]}, "legend": null}}},
                {"data": {"name": "migimg"}, "transform": [{"filter": "datum.group == 'nACP'"}],
                 "mark": {"type": "text", "font": "Liberation Serif", "fontSize": 14, "fontWeight": "bold", "baseline": "middle", "color": "black"},
                 "encoding": {"x": {"field": "conc", "type": "ordinal", "axis": null}, "y": {"datum": 1.1, "type": "quantitative", "axis": null}, "text": {"field": "conc"}}},
                {"data": {"name": "miggroup"}, "transform": [{"filter": "datum.group == 'nACP'"}],
                 "mark": {"type": "rule", "strokeWidth": 2, "color": "black"},
                 "encoding": {"x": {"field": "first", "type": "ordinal", "bandPosition": 0, "axis": null}, "x2": {"field": "last", "bandPosition": 1}, "y": {"datum": 1.28, "type": "quantitative", "axis": null}}},
                {"data": {"name": "miggroup"}, "transform": [{"filter": "datum.group == 'nACP'"}],
                 "mark": {"type": "text", "font": "Liberation Serif", "fontSize": 15, "fontWeight": "bold", "baseline": "middle", "color": "black"},
                 "encoding": {"x": {"datum": "50", "type": "ordinal", "axis": null}, "y": {"datum": 1.41, "type": "quantitative", "axis": null}, "text": {"field": "title"}}}
              ]
            }
          ],
          "spacing": 4,
          "resolve": {"scale": {"color": "independent"}}
        },
        {"width": 7, "height": 1, "data": {"values": []}, "mark": "point"},
        {
          "vconcat": [
            {"width": 1, "height": 23, "data": {"values": []}, "mark": "point"},
            {
              "width": 185, "height": 110,
              "encoding": {
                "x": {"field": "conc", "type": "ordinal", "sort": ["25", "50", "100"], "scale": {"paddingInner": 0.2, "paddingOuter": 0.15},
                      "axis": {"title": "peptides conc. (μM)", "labelAngle": 0, "labelFontWeight": "bold", "labelFontSize": 9, "titleFontSize": 10, "titleFontWeight": "bold", "tickSize": 4, "domainWidth": 1.5, "tickWidth": 1.5, "titlePadding": 3}},
                "xOffset": {"field": "peptide", "type": "nominal", "sort": ["nACP", "sQ7", "Q7"], "scale": {"paddingInner": 0.15}},
                "y": {"field": "value", "type": "quantitative", "scale": {"domain": [0, 120], "nice": false},
                      "axis": {"values": [0, 20, 40, 60, 80, 100, 120], "title": "Migration rate (%)", "labelFontWeight": "bold", "labelFontSize": 9, "titleFontSize": 10, "titleFontWeight": "bold", "tickSize": 4, "domainWidth": 1.5, "tickWidth": 1.5, "titlePadding": 4}}
              },
              "layer": [
                {"data": {"name": "migration"},
                 "mark": {"type": "errorbar", "color": "black", "ticks": {"size": 8, "thickness": 1.5}, "rule": {"strokeWidth": 1.5}},
                 "encoding": {"yError": {"field": "sd"}}},
                {"data": {"name": "migration"},
                 "mark": {"type": "bar", "stroke": "black", "strokeWidth": 1.5},
                 "encoding": {
                   "color": {"field": "peptide", "type": "nominal", "scale": {"domain": ["nACP", "sQ7", "Q7"], "range": ["white", "#9b9b9b", "black"]},
                             "legend": {"orient": "top", "direction": "horizontal", "title": null, "symbolType": "M-1.4,-0.7H1.4V0.7H-1.4Z", "symbolSize": 100, "symbolStrokeColor": "black", "symbolStrokeWidth": 1.5, "labelFontSize": 11, "columnPadding": 18, "offset": 6, "labelOffset": 5}}}},
                {"data": {"name": "migstars"},
                 "mark": {"type": "text", "baseline": "bottom", "dy": -1, "fontSize": 12, "fontWeight": "bold", "color": "black"},
                 "encoding": {"text": {"field": "sig"}}}
              ]
            }
          ],
          "spacing": 0,
          "resolve": {"legend": {"color": "independent"}}
        }
      ],
      "spacing": 4,
      "resolve": {"scale": {"color": "independent"}, "legend": {"color": "independent"}}
    },
    {
      "vconcat": [
        {"width": 12, "height": 12, "data": {"values": [{"letter": "D"}]},
         "mark": {"type": "text", "font": "Liberation Serif", "fontSize": 17, "fontWeight": "bold", "color": "black"},
         "encoding": {"text": {"field": "letter"}}},
        {
          "hconcat": [
            {
              "vconcat": [
                {
                  "hconcat": [
                    {"width": 38, "height": 95, "data": {"values": [{"time": "0 h"}]},
                     "mark": {"type": "text", "align": "right", "fontSize": 15, "dx": -4, "color": "black"},
                     "encoding": {"x": {"datum": 1, "type": "quantitative", "scale": {"domain": [0, 1]}, "axis": null}, "text": {"field": "time"}}},
                    {"width": 127, "height": 95, "title": {"text": "nACP", "fontSize": 15, "fontWeight": "normal", "offset": 3},
                     "data": {"name": "wound"}, "transform": [{"filter": "datum.treatment == 'nACP' && datum.time == '0 h'"}],
                     "mark": "rect",
                     "encoding": {"x": {"field": "from", "type": "quantitative", "scale": {"domain": [0, 1], "nice": false}, "axis": null}, "x2": {"field": "to"},
                                  "y": {"datum": 0, "type": "quantitative", "scale": {"domain": [0, 1], "nice": false}, "axis": null}, "y2": {"datum": 1},
                                  "color": {"condition": {"test": "datum.part == 'gap'", "value": "#6c4a0c"}, "value": "#a67a28"}}},
                    {"width": 127, "height": 95, "title": {"text": "Q7", "fontSize": 15, "fontWeight": "normal", "offset": 3},
                     "data": {"name": "wound"}, "transform": [{"filter": "datum.treatment == 'Q7' && datum.time == '0 h'"}],
                     "mark": "rect",
                     "encoding": {"x": {"field": "from", "type": "quantitative", "scale": {"domain": [0, 1], "nice": false}, "axis": null}, "x2": {"field": "to"},
                                  "y": {"datum": 0, "type": "quantitative", "scale": {"domain": [0, 1], "nice": false}, "axis": null}, "y2": {"datum": 1},
                                  "color": {"condition": {"test": "datum.part == 'gap'", "value": "#6c4a0c"}, "value": "#a67a28"}}},
                    {"width": 127, "height": 95, "title": {"text": "sQ7", "fontSize": 15, "fontWeight": "normal", "offset": 3},
                     "data": {"name": "wound"}, "transform": [{"filter": "datum.treatment == 'sQ7' && datum.time == '0 h'"}],
                     "mark": "rect",
                     "encoding": {"x": {"field": "from", "type": "quantitative", "scale": {"domain": [0, 1], "nice": false}, "axis": null}, "x2": {"field": "to"},
                                  "y": {"datum": 0, "type": "quantitative", "scale": {"domain": [0, 1], "nice": false}, "axis": null}, "y2": {"datum": 1},
                                  "color": {"condition": {"test": "datum.part == 'gap'", "value": "#6c4a0c"}, "value": "#a67a28"}}}
                  ],
                  "spacing": 6
                },
                {
                  "hconcat": [
                    {"width": 38, "height": 95, "data": {"values": [{"time": "24 h"}]},
                     "mark": {"type": "text", "align": "right", "fontSize": 15, "dx": -4, "color": "black"},
                     "encoding": {"x": {"datum": 1, "type": "quantitative", "scale": {"domain": [0, 1]}, "axis": null}, "text": {"field": "time"}}},
                    {"width": 127, "height": 95,
                     "data": {"name": "wound"}, "transform": [{"filter": "datum.treatment == 'nACP' && datum.time == '24 h'"}],
                     "mark": "rect",
                     "encoding": {"x": {"field": "from", "type": "quantitative", "scale": {"domain": [0, 1], "nice": false}, "axis": null}, "x2": {"field": "to"},
                                  "y": {"datum": 0, "type": "quantitative", "scale": {"domain": [0, 1], "nice": false}, "axis": null}, "y2": {"datum": 1},
                                  "color": {"condition": {"test": "datum.part == 'gap'", "value": "#8a6a14"}, "value": "#b38f30"}}},
                    {"width": 127, "height": 95,
                     "data": {"name": "wound"}, "transform": [{"filter": "datum.treatment == 'Q7' && datum.time == '24 h'"}],
                     "mark": "rect",
                     "encoding": {"x": {"field": "from", "type": "quantitative", "scale": {"domain": [0, 1], "nice": false}, "axis": null}, "x2": {"field": "to"},
                                  "y": {"datum": 0, "type": "quantitative", "scale": {"domain": [0, 1], "nice": false}, "axis": null}, "y2": {"datum": 1},
                                  "color": {"condition": {"test": "datum.part == 'gap'", "value": "#8a6a14"}, "value": "#b38f30"}}},
                    {"width": 127, "height": 95,
                     "data": {"name": "wound"}, "transform": [{"filter": "datum.treatment == 'sQ7' && datum.time == '24 h'"}],
                     "mark": "rect",
                     "encoding": {"x": {"field": "from", "type": "quantitative", "scale": {"domain": [0, 1], "nice": false}, "axis": null}, "x2": {"field": "to"},
                                  "y": {"datum": 0, "type": "quantitative", "scale": {"domain": [0, 1], "nice": false}, "axis": null}, "y2": {"datum": 1},
                                  "color": {"condition": {"test": "datum.part == 'gap'", "value": "#8a6a14"}, "value": "#b38f30"}}}
                  ],
                  "spacing": 6
                }
              ],
              "spacing": 6
            },
            {"width": 12, "height": 1, "data": {"values": []}, "mark": "point"},
            {
              "vconcat": [
                {"width": 1, "height": 28, "data": {"values": []}, "mark": "point"},
                {
                  "width": 165, "height": 113,
                  "title": {"text": "Wound healing assay", "fontSize": 11, "fontWeight": "bold", "offset": 10},
                  "encoding": {
                    "x": {"field": "peptide", "type": "nominal", "sort": ["nACP", "Q7", "sQ7"], "scale": {"paddingInner": 0.28, "paddingOuter": 0.14},
                          "axis": {"title": null, "labelAngle": 0, "labelFontWeight": "bold", "labelFontSize": 8, "tickSize": 4, "domainWidth": 1.5, "tickWidth": 1.5}},
                    "y": {"field": "value", "type": "quantitative", "scale": {"domain": [0, 100], "nice": false},
                          "axis": {"values": [0, 20, 40, 60, 80, 100], "title": "Wound closure (%)", "labelFontWeight": "bold", "labelFontSize": 8, "titleFontSize": 9, "titleFontWeight": "bold", "tickSize": 4, "domainWidth": 1.5, "tickWidth": 1.5, "titlePadding": 4}}
                  },
                  "layer": [
                    {"data": {"name": "closure"},
                     "mark": {"type": "errorbar", "color": "black", "ticks": {"size": 20, "thickness": 2}, "rule": {"strokeWidth": 2}},
                     "encoding": {"yError": {"field": "sd"}}},
                    {"data": {"name": "closure"},
                     "mark": {"type": "bar", "fill": "white", "stroke": "black", "strokeWidth": 2}},
                    {"data": {"name": "closurestars"},
                     "mark": {"type": "text", "baseline": "bottom", "dy": -1, "fontSize": 11, "fontWeight": "bold", "color": "black"},
                     "encoding": {"text": {"field": "sig"}}}
                  ]
                }
              ],
              "spacing": 0
            }
          ],
          "spacing": 0
        }
      ],
      "spacing": 0
    }
  ]
}
